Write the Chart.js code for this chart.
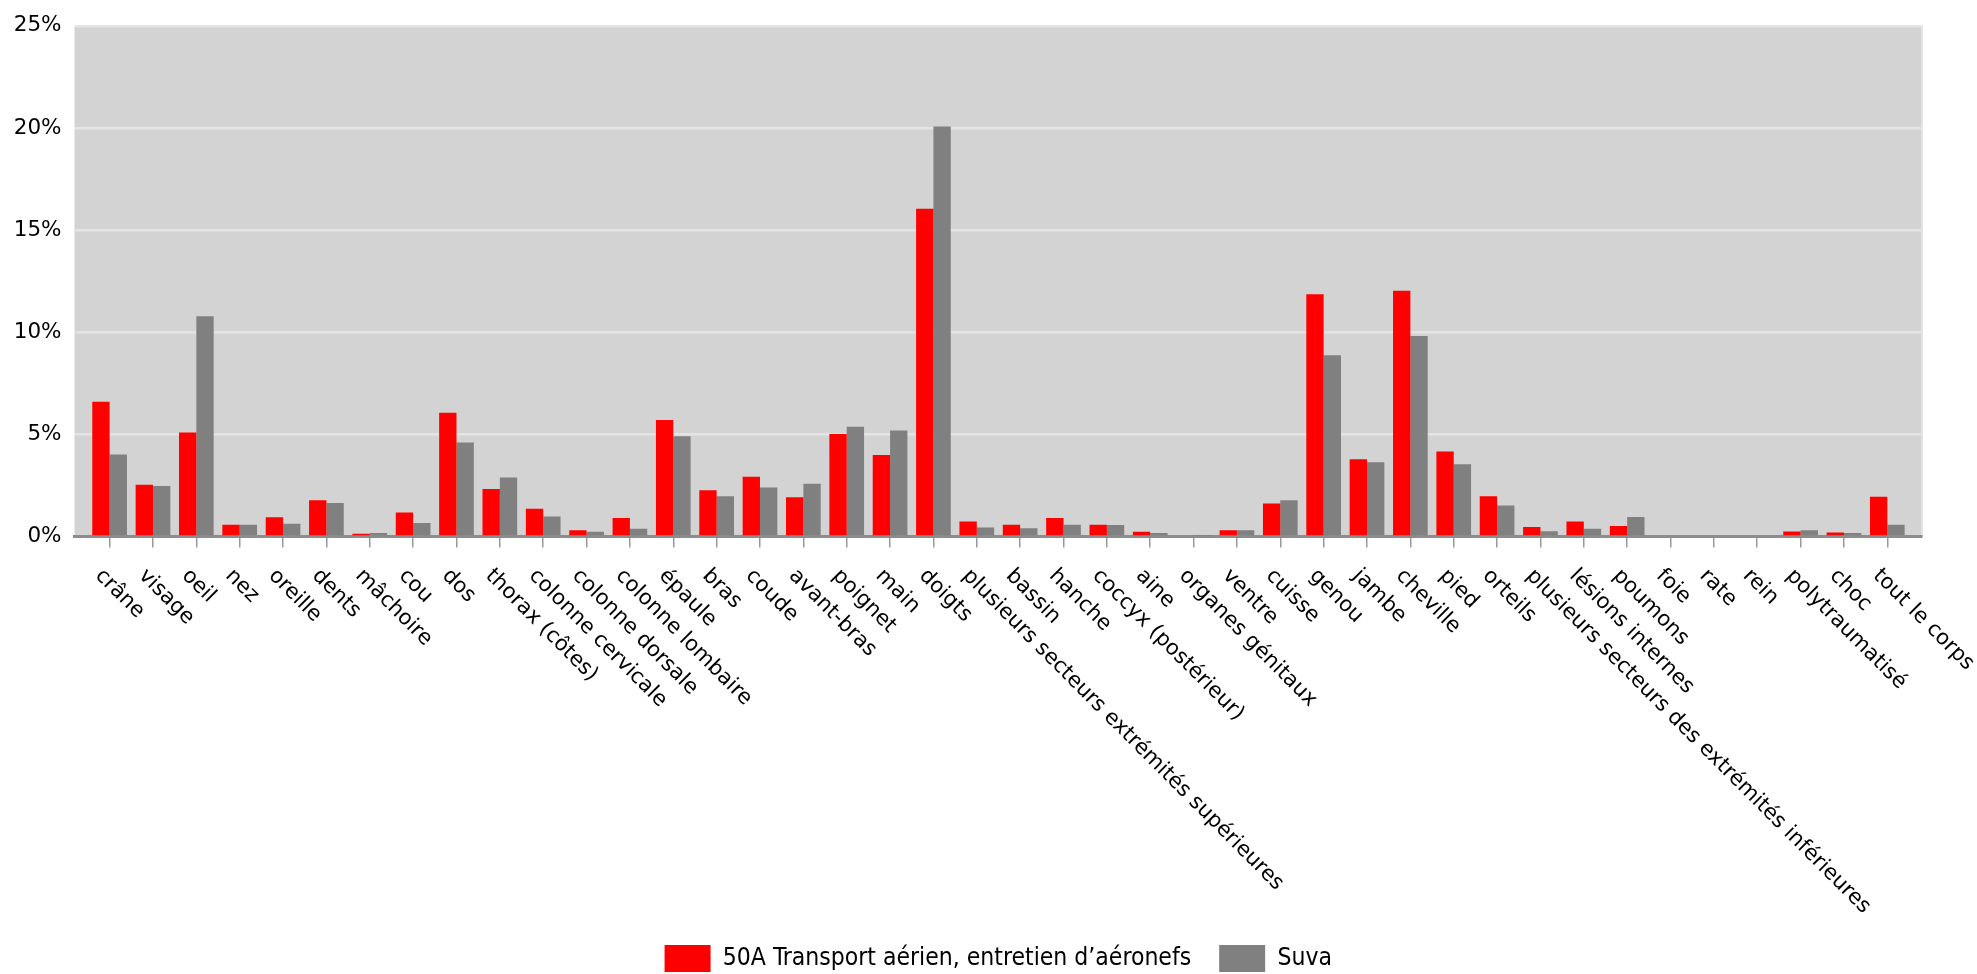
<!DOCTYPE html>
<html>
<head>
<meta charset="utf-8">
<script src="https://cdn.jsdelivr.net/npm/chart.js@4"></script>
<style>
  html, body { margin: 0; padding: 0; background: #fff; }
  #wrap { width: 1977px; height: 974px; }
</style>
</head>
<body>
<div id="wrap"><canvas id="bar-chart"></canvas></div>
<script>
const categories = [
  'crâne', 'visage', 'oeil', 'nez', 'oreille', 'dents', 'mâchoire', 'cou', 'dos',
  'thorax (côtes)', 'colonne cervicale', 'colonne dorsale', 'colonne lombaire',
  'épaule', 'bras', 'coude', 'avant-bras', 'poignet', 'main', 'doigts',
  'plusieurs secteurs extrémités supérieures', 'bassin', 'hanche', 'coccyx (postérieur)',
  'aine', 'organes génitaux', 'ventre', 'cuisse', 'genou', 'jambe', 'cheville', 'pied',
  'orteils', 'plusieurs secteurs des extrémités inférieures', 'lésions internes',
  'poumons', 'foie', 'rate', 'rein', 'polytraumatisé', 'choc', 'tout le corps'
];

// % of cases
const aviationValues = [
  6.60, 2.53, 5.09, 0.57, 0.94, 1.78, 0.14, 1.17, 6.06,
  2.33, 1.36, 0.31, 0.91,
  5.70, 2.26, 2.93, 1.92, 5.02, 3.99, 16.05,
  0.73, 0.57, 0.91, 0.57,
  0.23, 0.00, 0.30, 1.62, 11.86, 3.78, 12.03, 4.16,
  1.97, 0.47, 0.73,
  0.52, 0.00, 0.00, 0.00, 0.24, 0.19, 1.95
];
const suvaValues = [
  4.01, 2.47, 10.78, 0.57, 0.63, 1.64, 0.17, 0.66, 4.60,
  2.89, 0.98, 0.23, 0.38,
  4.91, 1.97, 2.40, 2.58, 5.37, 5.19, 20.07,
  0.44, 0.40, 0.57, 0.56,
  0.17, 0.03, 0.31, 1.78, 8.87, 3.64, 9.82, 3.54,
  1.52, 0.26, 0.38,
  0.96, 0.00, 0.00, 0.00, 0.30, 0.17, 0.57
];

const seriesNames = ['50A Transport aérien, entretien d\u2019aéronefs', 'Suva'];
const yMax = 25;
const yStep = 5;

// grey plot background + light right edge
const plotBackground = {
  id: 'plotBackground',
  beforeDraw(chart) {
    const { ctx, chartArea: a } = chart;
    ctx.save();
    ctx.fillStyle = '#d3d3d3';
    ctx.fillRect(a.left, a.top, a.right - a.left, a.bottom - a.top);
    ctx.strokeStyle = '#e4e4e4';
    ctx.lineWidth = 2;
    ctx.beginPath();
    ctx.moveTo(a.right, a.top);
    ctx.lineTo(a.right, a.bottom);
    ctx.stroke();
    ctx.restore();
  }
};

// category names, turned 45deg clockwise and starting at the tick
const slantedLabels = {
  id: 'slantedLabels',
  afterDraw(chart) {
    const { ctx } = chart;
    const x = chart.scales.x;
    ctx.save();
    ctx.font = '21.2px "DejaVu Sans"';
    ctx.fillStyle = '#000';
    ctx.textAlign = 'left';
    ctx.textBaseline = 'alphabetic';
    categories.forEach((label, i) => {
      const px = x.getPixelForValue(i);
      ctx.save();
      ctx.translate(px - 15, x.top + 40);
      ctx.rotate(Math.PI / 4);
      ctx.fillText(label, 0, 0);
      ctx.restore();
    });
    ctx.restore();
  }
};

const ctx = document.getElementById('bar-chart').getContext('2d');

new Chart(ctx, {
  type: 'bar',
  data: {
    datasets: [{
      label: seriesNames[0],
      data: aviationValues.map((v, i) => ({ x: i, y: v })),
      backgroundColor: '#ff0000',
      borderWidth: 0
    }, {
      label: seriesNames[1],
      data: suvaValues.map((v, i) => ({ x: i, y: v })),
      backgroundColor: '#808080',
      borderWidth: 0
    }]
  },
  options: {
    responsive: true,
    maintainAspectRatio: false,
    animation: false,
    categoryPercentage: 0.8,
    barPercentage: 1.0,
    layout: {
      padding: { left: 0, right: 55, top: 22, bottom: 0 }
    },
    scales: {
      x: {
        type: 'linear',
        min: -0.81,
        max: 41.8,
        offset: false,
        afterFit: (scale) => { scale.height = 380.5; },
        ticks: {
          display: false,
          stepSize: 1,
          includeBounds: false,
          autoSkip: false
        },
        grid: {
          offset: false,
          drawOnChartArea: false,
          drawTicks: true,
          tickLength: 11,
          color: '#999',
          lineWidth: 1.5
        },
        border: {
          color: '#8c8c8c',
          width: 3
        }
      },
      y: {
        min: 0,
        max: yMax,
        afterFit: (scale) => { scale.width = 74.5; },
        ticks: {
          stepSize: yStep,
          padding: 13,
          color: '#000',
          font: { family: 'DejaVu Sans', size: 21.5 },
          callback: (v) => v + '%'
        },
        grid: {
          color: (c) => c.tick && c.tick.value === 0 ? 'rgba(0,0,0,0)' : '#e4e4e4',
          lineWidth: 2.5,
          drawTicks: false
        },
        border: { display: false }
      }
    },
    plugins: {
      tooltip: { enabled: false },
      legend: {
        position: 'bottom',
        fullSize: false,
        maxHeight: 57,
        labels: {
          boxWidth: 46,
          boxHeight: 27,
          padding: 28,
          color: '#000',
          font: { family: '"DejaVu Sans Condensed", "DejaVu Sans"', size: 24.5 }
        }
      }
    }
  },
  plugins: [plotBackground, slantedLabels]
});
</script>
</body>
</html>
